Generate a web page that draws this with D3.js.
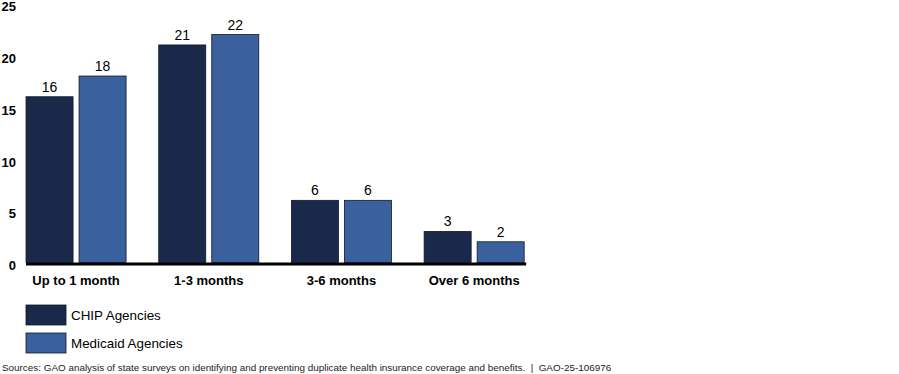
<!DOCTYPE html>
<html>
<head>
<meta charset="utf-8">
<script src="https://cdn.jsdelivr.net/npm/d3@7"></script>
<style>
  body { margin: 0; background: #fff; }
  svg { display: block; font-family: "Liberation Sans", Arial, sans-serif; }
</style>
</head>
<body>
<svg id="chart" width="899" height="374"></svg>
<script>
// chart data
var categories = ["Up to 1 month", "1-3 months", "3-6 months", "Over 6 months"];
var seriesNames = ["CHIP Agencies", "Medicaid Agencies"];
var chipValues = [16, 21, 6, 3];
var medicaidValues = [18, 22, 6, 2];
var yTicks = [0, 5, 10, 15, 20, 25];
var sourceNote = "Sources: GAO analysis of state surveys on identifying and preventing duplicate health insurance coverage and benefits.  |  GAO-25-106976";

var colors = ["#1a2949", "#3a619d"];
var seriesValues = [chipValues, medicaidValues];

var svg = d3.select("#chart");

var yScale = d3.scaleLinear().domain([0, 25]).range([262.5, 3.5]);

var x0 = d3.scaleBand()
  .domain(categories)
  .range([9.7, 540.5])
  .paddingInner(0.246)
  .paddingOuter(0.123);

var x1 = d3.scaleBand()
  .domain(seriesNames)
  .range([0, x0.bandwidth()])
  .paddingInner(0.113);

// y tick labels (no axis line)
var yAxis = d3.axisLeft(yScale).tickValues(yTicks).tickSize(0).tickPadding(0);
var yg = svg.append("g").attr("transform", "translate(16,0)").call(yAxis);
yg.select(".domain").remove();
yg.selectAll("text")
  .attr("dy", "0.55em")
  .attr("fill", "#000")
  .style("font-size", "13px")
  .style("font-weight", "bold")
  .style("font-family", "'Liberation Sans', Arial, sans-serif");

// bars
var groups = svg.selectAll(".grp")
  .data(categories)
  .enter().append("g")
  .attr("class", "grp")
  .attr("transform", function (d) { return "translate(" + x0(d) + ",0)"; });

groups.selectAll("rect")
  .data(function (d, i) {
    return seriesNames.map(function (s, j) { return {series: s, idx: j, value: seriesValues[j][i]}; });
  })
  .enter().append("rect")
  .attr("x", function (d) { return x1(d.series); })
  .attr("y", function (d) { return yScale(d.value); })
  .attr("width", x1.bandwidth())
  .attr("height", function (d) { return yScale(0) - yScale(d.value); })
  .attr("fill", function (d) { return colors[d.idx]; })
  .attr("stroke", "#10182b")
  .attr("stroke-width", 0.8);

groups.selectAll(".val")
  .data(function (d, i) {
    return seriesNames.map(function (s, j) { return {series: s, value: seriesValues[j][i]}; });
  })
  .enter().append("text")
  .attr("class", "val")
  .attr("x", function (d) { return x1(d.series) + x1.bandwidth() / 2; })
  .attr("y", function (d) { return yScale(d.value) - 5; })
  .attr("text-anchor", "middle")
  .style("font-size", "14px")
  .text(function (d) { return d.value; });

// x axis: thick baseline + bold category labels
var xAxis = d3.axisBottom(x0).tickSize(0).tickPadding(0);
var xg = svg.append("g").attr("transform", "translate(0," + yScale(0) + ")").call(xAxis);
xg.select(".domain").remove();
xg.selectAll("text")
  .attr("dy", 0)
  .attr("y", 22)
  .attr("fill", "#000")
  .style("font-size", "13px")
  .style("font-weight", "bold")
  .style("font-family", "'Liberation Sans', Arial, sans-serif");
svg.append("line")
  .attr("x1", x0(categories[0]))
  .attr("x2", x0(categories[3]) + x0.bandwidth() + 2)
  .attr("y1", yScale(0) + 1.5)
  .attr("y2", yScale(0) + 1.5)
  .attr("stroke", "#000")
  .attr("stroke-width", 3);

// legend
var legend = svg.selectAll(".leg")
  .data(seriesNames)
  .enter().append("g")
  .attr("class", "leg")
  .attr("transform", function (d, i) { return "translate(26," + (305 + i * 28) + ")"; });
legend.append("rect")
  .attr("width", 40).attr("height", 20)
  .attr("fill", function (d, i) { return colors[i]; })
  .attr("stroke", "#10182b").attr("stroke-width", 0.8);
legend.append("text")
  .attr("x", 45).attr("y", 15)
  .style("font-size", "13.4px")
  .text(function (d) { return d; });

// source note
svg.append("text")
  .attr("x", 2).attr("y", 371)
  .style("font-size", "9.9px")
  .attr("fill", "#222")
  .style("white-space", "pre")
  .text(sourceNote);
</script>
</body>
</html>
